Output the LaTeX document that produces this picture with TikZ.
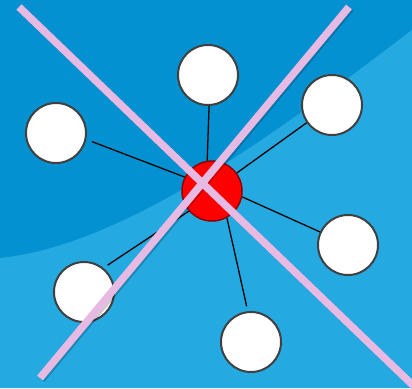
\documentclass[tikz,border=0pt]{standalone}
\usepackage{tikz}
\usetikzlibrary{positioning}
\definecolor{deepsky}{RGB}{4,145,209}
\definecolor{lightsky}{RGB}{36,169,225}
\definecolor{orchidbar}{RGB}{230,186,226}

\begin{document}
\begin{tikzpicture}[x=1pt, y=-1pt,
    leaf/.style={circle, draw=black!75, line width=2pt, fill=white, minimum size=60pt, inner sep=0pt},
    hubdot/.style={circle, draw=red!55!black, line width=1.5pt, fill=red, minimum size=60pt, inner sep=0pt},
    link/.style={line width=1.3pt, black},
    bar/.style={line width=7.5pt, draw=orchidbar},
    barshadow/.style={line width=7.5pt, draw=black, opacity=0.2, xshift=1.5pt, yshift=-1.5pt}
]
\useasboundingbox (0,0) rectangle (412,388);
\clip (0,0) rectangle (412,388);

% background
\fill[deepsky] (0,0) rectangle (412,388);
\fill[lightsky] (0,258) .. controls (130,245) and (292,121) .. (412,30) -- (412,388) -- (0,388) -- cycle;

\node[hubdot] (hub) at (212,191) {};
\node[leaf] (top) at (208,75) {};
\node[leaf] (ul) at (56,133) {};
\node[leaf] (ur) at (332,105) {};
\node[leaf] (rt) at (348,245) {};
\node[leaf] (bt) at (251,342) {};
\node[leaf] (ll) at (84,292) {};

\draw[link] (hub.99) -- (top.-88);
\draw[link, shorten >=6pt] (hub.153) -- (ul.-12);
\draw[link] (hub.36) -- (ur.-145);
\draw[link] (hub.-11) -- (rt.155);
\draw[link, shorten >=5pt] (hub.-61) -- (bt.96);
\draw[link, shorten >=5pt] (hub.-139) -- (ll.51);

% crossing bars
\draw[barshadow] (19,7) -- (422,394);
\draw[barshadow] (349,7) -- (40,378);
\draw[bar] (19,7) -- (422,394);
\draw[bar] (349,7) -- (40,378);
\end{tikzpicture}
\end{document}
